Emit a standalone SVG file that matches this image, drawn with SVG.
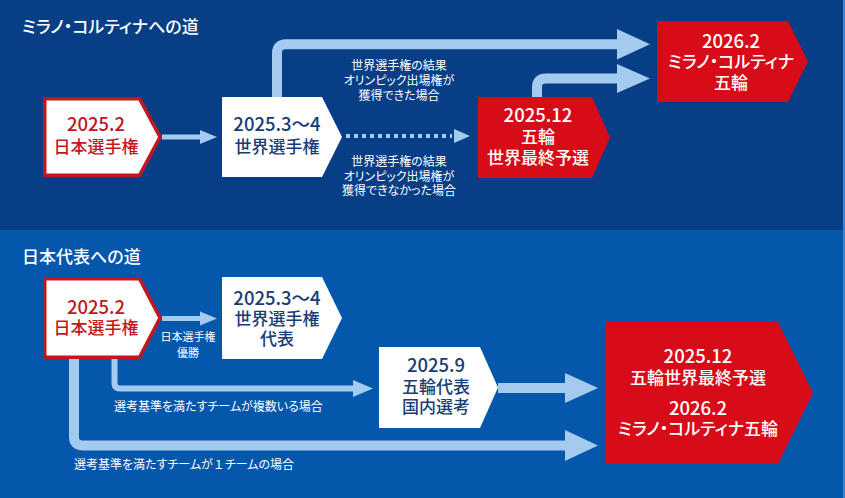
<svg xmlns="http://www.w3.org/2000/svg" width="845" height="498" viewBox="0 0 845 498">
<style>
text{font-family:"Noto Sans CJK JP","Noto Sans",sans-serif;font-feature-settings:"palt";text-anchor:middle}
.t{font-size:17px;font-weight:500;fill:#fff;text-anchor:start}
.n{font-size:17px;font-weight:500}
.d{font-size:18.5px}
.w{fill:#fff}
.r{fill:#c3161f}
.b{fill:#183c74}
.l{font-size:12px;fill:#fff}
.s{font-size:11px;fill:#fff}
.c{fill:none;stroke:#a3cbf0;stroke-linejoin:round}
.h{fill:#a3cbf0}
</style>
<rect x="0" y="0" width="845" height="230" fill="#083e86"/>
<rect x="0" y="230" width="845" height="268" fill="#0557ac"/>
<rect x="843" y="0" width="2" height="498" fill="#3f86d2"/>
<text class="t" x="22" y="33">ミラノ・コルティナへの道</text>
<text class="t" x="22" y="263">日本代表への道</text>
<g id="connectors">
<path class="c" stroke-width="5" d="M162,137H202"/>
<polygon class="h" points="200,130 217,137 200,144"/>
<path class="c" stroke-width="10" d="M277,97V53Q277,44.3 286,44.3H620"/>
<polygon class="h" points="617,29 650,44.3 617,59.5"/>
<path class="c" stroke-width="10" d="M537,97V87Q537,78.5 546,78.5H620"/>
<polygon class="h" points="617,64 650,78.5 617,93"/>
<path class="c" stroke-width="4" stroke-dasharray="4 4" stroke-linejoin="miter" d="M346,136H452"/>
<polygon class="h" points="454,129 470,136 454,143"/>
<path class="c" stroke-width="5" d="M162,318.5H202"/>
<polygon class="h" points="200,311.5 217,318.5 200,325.5"/>
<path class="c" stroke-width="6" d="M114.5,359V383Q114.5,388.5 120,388.5H356"/>
<polygon class="h" points="353,380 373,388.5 353,397"/>
<path class="c" stroke-width="10" d="M74,359V437Q74,445.5 83,445.5H568"/>
<polygon class="h" points="565,430 598,445.5 565,461"/>
<path class="c" stroke-width="10" d="M498,388H568"/>
<polygon class="h" points="565,373 598,388 565,403"/>
</g>
<g id="labels">
<text class="l" x="399" y="70">世界選手権の結果<tspan x="399" dy="15">オリンピック出場権が</tspan><tspan x="399" dy="15">獲得できた場合</tspan></text>
<text class="l" x="399" y="166">世界選手権の結果<tspan x="399" dy="14.5">オリンピック出場権が</tspan><tspan x="399" dy="14.5">獲得できなかった場合</tspan></text>
<text class="s" x="188" y="341">日本選手権<tspan x="188" dy="16">優勝</tspan></text>
<text class="l" x="114" y="411" style="text-anchor:start">選考基準を満たすチームが複数いる場合</text>
<text class="l" x="74" y="469" style="text-anchor:start">選考基準を満たすチームが<tspan style="font-feature-settings:normal">１</tspan>チームの場合</text>
</g>
<g id="node-jpn-champ-1">
<polygon points="44.75,98.75 139.5,98.75 160,137 139.5,175.25 44.75,175.25" fill="#fff" stroke="#c3161f" stroke-width="3.5"/>
<text class="n r" x="96" y="131"><tspan class="d">2025.2</tspan><tspan x="96" dy="22">日本選手権</tspan></text>
</g>
<g id="node-world-champ-1">
<polygon points="222,97 322,97 342,137 322,177 222,177" fill="#fff"/>
<text class="n b" x="277" y="131"><tspan class="d">2025.3〜4</tspan><tspan x="277" dy="22">世界選手権</tspan></text>
</g>
<g id="node-final-qual">
<polygon points="478,97 592,97 610,137.5 592,178 478,178" fill="#d80c18"/>
<text class="n w" x="538" y="122"><tspan class="d">2025.12</tspan><tspan x="538" dy="21">五輪</tspan><tspan x="538" dy="21">世界最終予選</tspan></text>
</g>
<g id="node-olympics">
<polygon points="657,21 788,21 808,61.5 788,102 657,102" fill="#d80c18"/>
<text class="n w" x="731" y="48"><tspan class="d">2026.2</tspan><tspan x="731" dy="20">ミラノ・コルティナ</tspan><tspan x="731" dy="21">五輪</tspan></text>
</g>
<g id="node-jpn-champ-2">
<polygon points="44.75,278.75 139.5,278.75 160,318 139.5,357.25 44.75,357.25" fill="#fff" stroke="#c3161f" stroke-width="3.5"/>
<text class="n r" x="96" y="314"><tspan class="d">2025.2</tspan><tspan x="96" dy="20">日本選手権</tspan></text>
</g>
<g id="node-world-champ-2">
<polygon points="222,277 322,277 342,318 322,359 222,359" fill="#fff"/>
<text class="n b" x="277" y="305"><tspan class="d">2025.3〜4</tspan><tspan x="277" dy="20">世界選手権</tspan><tspan x="277" dy="20">代表</tspan></text>
</g>
<g id="node-domestic">
<polygon points="379,347 480,347 498,387.5 480,428 379,428" fill="#fff"/>
<text class="n b" x="436" y="372"><tspan class="d">2025.9</tspan><tspan x="436" dy="21">五輪代表</tspan><tspan x="436" dy="20">国内選考</tspan></text>
</g>
<g id="node-final-olympics">
<polygon points="606,322 778,322 813,393 778,464 606,464" fill="#d80c18"/>
<text class="n w" x="698" y="363"><tspan class="d">2025.12</tspan><tspan x="698" dy="21">五輪世界最終予選</tspan></text>
<text class="n w" x="698" y="415"><tspan class="d">2026.2</tspan><tspan x="698" dy="20">ミラノ・コルティナ五輪</tspan></text>
</g>
</svg>
